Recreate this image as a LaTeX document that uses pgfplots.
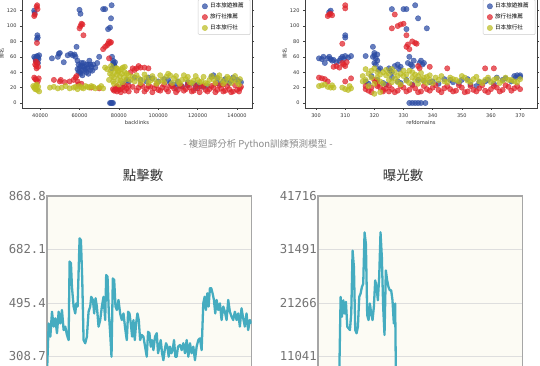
\documentclass[border=0pt]{standalone}
\usepackage{pgfplots}
\pgfplotsset{compat=1.18}
\usepackage{fontspec}
\setmainfont{DejaVu Sans}
\newfontfamily\cjk{Noto Sans CJK TC}
\newfontfamily\mono{DejaVu Sans Mono}
\definecolor{cblue}{HTML}{2C4CA4}
\definecolor{cred}{HTML}{E0242C}
\definecolor{colive}{HTML}{BCBD22}
\definecolor{tealc}{HTML}{45ACC0}
\definecolor{cream}{HTML}{FCFBF4}

\pgfplotsset{
  scat/.style={
    scale only axis, height=108.5pt,
    ymin=-6.5, ymax=134.5, ytick={0,20,...,120},
    tick align=outside, major tick length=2pt,
    tick style={black!75, line width=0.4pt},
    axis line style={black!75, line width=0.5pt},
    ticklabel style={font=\fontsize{5}{5.5}\selectfont, text=black!80},
    /pgf/number format/assume math mode=true,
    /pgf/number format/fixed,
    /pgf/number format/1000 sep={},
    scaled x ticks=false,
    xlabel style={font=\fontsize{5.2}{6}\selectfont, text=black!80, yshift=4pt},
    ylabel style={font=\cjk\fontsize{5}{6}\selectfont, text=black!80, yshift=-4pt},
    legend style={at={(0.993,1.0)}, anchor=north east, draw=black!20, fill=white,
      font=\cjk\fontsize{5.6}{6}\selectfont, rounded corners=1pt,
      row sep=0.6pt, inner xsep=4pt, inner ysep=1.5pt,
      nodes={inner xsep=2.5pt}},
    legend cell align=left,
  },
  dot/.style={only marks, mark=*, mark size=2.7pt, color=#1,
    mark options={fill=#1, draw=#1, fill opacity=0.72, draw opacity=0.72}},
  botax/.style={
    scale only axis, width=204.5pt, height=214pt,
    axis background/.style={fill=cream},
    axis line style={draw=black!35, line width=1.3pt},
    ymajorgrids, grid style={black!13, line width=0.7pt},
    xtick=\empty, major tick length=0pt,
    xmin=0, xmax=615, scaled y ticks=false,
    yticklabel style={font=\mono\fontsize{12.3}{13}\selectfont, text=black!55, inner xsep=1pt},
    /pgf/number format/assume math mode=true,
  },
}

\begin{document}
\begin{tikzpicture}
\useasboundingbox (0,0) rectangle (540pt,366pt);
\clip (0,0) rectangle (540pt,366pt);
\fill[white] (0,0) rectangle (540pt,366pt);

% ---------------- backlinks scatter ----------------
\begin{axis}[scat, at={(22pt,258pt)}, anchor=south west, width=230pt,
  xmin=30800, xmax=147600, xtick={40000,60000,80000,100000,120000,140000},
  xticklabels={40000,60000,80000,100000,120000,140000},
  yticklabels={0,20,40,60,80,100,120},
  xlabel={backlinks}, ylabel={排名}]
\addplot[dot=cblue] table {
37000 120
37200 117
38600 88
38800 85
38400 83
37000 60
37500 58
38000 56
38500 61
39000 59
39500 62
37800 55
38300 60
39200 57
38900 52
46000 58
49000 60
49500 64
50000 65
52000 53
54000 62
55500 64
56500 62
57500 63
58500 73
58000 60
59000 55
59500 50
60000 45
60200 40
60500 38
61000 42
61500 48
60000 121
60500 116
62000 52
62500 47
63000 44
63500 40
64000 45
64500 50
65000 55
65500 43
66000 47
67000 50
68000 46
69000 52
59000 44
60500 48
61500 36
62500 42
63500 50
64500 38
65500 50
66500 42
59500 40
61000 52
70000 60
72000 122
73000 122
74500 96
75500 98
76000 110
76300 127
76500 60
77000 55
77200 52
77500 50
77800 48
78000 53
76500 45
75500 0
76000 0
76500 0
77000 0
82000 25
84000 30
85000 28
88000 33
91000 30
94000 28
95000 33
97000 32
100000 28
103000 31
105000 30
106000 26
108000 24
109000 20
110000 28
112000 22
115000 23
115000 27
118000 25
119000 19
120000 24
121000 22
123000 21
125000 22
127000 34
128000 36
130000 32
131000 25
133000 28
134000 31
136000 26
137000 29
138000 33
140000 30
141000 28
142000 27
};
\addlegendentry{日本旅遊推薦}
\addplot[dot=cred] table {
37000 113
37300 115
38500 127
38700 122
38200 125
38400 78
37500 50
38000 48
38500 52
39000 47
37800 54
38200 45
37000 33
37500 31
38000 30
38800 28
39300 32
47000 30
50000 28
50500 30
52500 27
55000 28
57000 30
58000 33
58500 35
59000 28
59500 24
60000 97
60500 100
61000 103
61500 102
62000 88
61000 25
66000 20
70000 19
72000 70
73000 73
74000 75
74500 77
75000 80
75500 78
76000 79
75000 58
77000 18
77500 16
78000 17
78500 20
79000 15
79500 19
80000 17
81000 18
82000 21
83000 16
84000 19
85000 22
86000 40
87000 45
88000 43
89000 45
90000 48
91000 46
93000 46
95000 45
90000 20
92000 22
94000 18
96000 21
98000 19
100000 17
102000 20
104000 18
106000 22
108000 19
110000 17
112000 21
114000 18
116000 20
118000 16
120000 19
122000 21
124000 17
126000 18
128000 20
130000 17
132000 19
134000 16
136000 18
138000 15
140000 17
141500 19
79000 22
81000 14
83000 23
85000 15
87000 21
89000 16
91000 24
93000 15
95000 22
97000 14
99000 23
101000 16
103000 24
105000 15
107000 22
109000 14
111000 23
113000 16
115000 24
117000 15
119000 22
121000 14
123000 23
125000 15
127000 22
129000 14
131000 23
133000 15
135000 22
137000 14
139000 23
141000 15
142000 21
129000 25
133000 24
};
\addlegendentry{旅行社推薦}
\addplot[dot=colive] table {
36500 22
37000 20
37500 18
38000 22
38500 17
39000 21
39500 15
38200 24
45000 20
47000 21
49000 19
51000 20
53000 22
55000 19
57000 20
58000 21
59000 18
60000 22
61000 20
62000 19
63000 22
64000 21
65000 20
66000 22
67000 21
68000 19
70000 20
71000 22
72000 19
73000 46
74000 44
75000 30
75500 38
76000 42
76500 35
77000 28
77500 33
78000 40
78500 45
79000 37
79500 30
80000 42
80500 35
81000 29
81500 38
82000 46
82500 33
83000 40
84000 31
85000 36
86000 30
87000 34
88000 28
90000 32
92000 30
94000 33
96000 29
98000 31
100000 27
102000 30
104000 34
106000 36
108000 32
110000 28
112000 30
114000 31
116000 27
118000 29
120000 30
122000 28
124000 26
126000 30
128000 31
130000 33
132000 30
134000 28
136000 32
138000 30
140000 27
141500 31
76000 48
77500 25
79000 45
80000 24
81000 44
82000 27
83000 47
84000 38
79500 41
89000 36
91000 26
93000 37
95000 26
97000 35
99000 25
101000 36
103000 27
105000 38
107000 26
109000 35
111000 25
113000 36
115000 34
117000 26
119000 35
121000 27
123000 34
125000 25
127000 35
129000 26
131000 36
133000 25
135000 34
137000 26
139000 35
141000 24
};
\addlegendentry{日本旅行社}
\end{axis}

% ---------------- refdomains scatter ----------------
\begin{axis}[scat, at={(305pt,258pt)}, anchor=south west, width=232pt,
  xmin=296.2, xmax=375.8, xtick={300,310,320,330,340,350,360,370},
  xticklabels={300,310,320,330,340,350,360,370},
  yticklabels={0,20,40,60,80,100,120},
  xlabel={refdomains}, ylabel={排名}]
\addplot[dot=cblue] table {
301 58
302 57
302.5 60
303 52
304 58
304.5 60
305 57
305.5 55
305 120
304.5 118
306 56
307 53
308 55
308.5 58
309 60
309.5 57
310 88
310 85
310 61
311 59
312 61
317 61
319.5 73
320 65
320 62
319.5 60
320.5 58
321 55
320 52
320.5 50
321 63
321.5 43
322 45
325 45
325.5 42
326 40
326 122
327 48
328 50
328.5 44
329 47
330 122
331 122
331 96
331.5 52
332 60
332.5 50
333 48
333.5 55
334 127
335 110
335.5 52
336 55
336.5 50
337 52
338 97
332 0
333 0
334 0
335 0
336 0
337.5 0
318 25
323 26
328 28
335 30
340 28
344 31
347 27
350 30
353 24
356 27
359 30
362 33
365 32
368 35
369 36
370 34
368.5 33
317 28
319 35
321 30
324 24
326 33
329 26
331 30
333 24
337 29
339 27
342 25
346 30
349 26
352 31
355 22
358 28
361 25
364 30
367 28
370 36
};
\addlegendentry{日本旅遊推薦}
\addplot[dot=cred] table {
301 33
302 32
303 31
304 113
304.5 115
305 116
305.5 114
304 28
306 47
307 48
308 46
309 77
310 127
310 123
309 52
309.5 50
310 48
310.5 53
310 28
312 32
317 18
318 16
319 20
320 30
320.5 28
321 25
322 20
323 17
324 19
325 15
326 97
327 115
328 100
329 102
330 103
331 88
331.5 76
331 73
332 70
333 80
334 78
334.5 77
335 48
335.5 45
326 18
328 16
330 20
332 17
334 19
336 15
338 18
339 47
340 20
342 17
344 19
345 45
346 18
348 16
350 20
352 15
354 17
356 19
358 45
358 16
360 18
361 45
362 20
364 17
366 21
368 19
370 18
317 22
319 14
321 22
323 15
325 23
327 14
329 22
331 15
333 23
335 14
337 22
339 16
341 23
343 14
345 22
347 15
349 23
351 14
353 22
355 15
357 23
359 14
361 22
363 15
365 23
367 16
369 22
};
\addlegendentry{旅行社推薦}
\addplot[dot=colive] table {
301 22
302 23
303 24
304 21
305 20
305.5 23
306 20
309 20
310 18
311 17
311.5 22
312 19
316 35
317 30
318 38
319 42
320 25
320 45
320 12
321 33
322 28
322 14
323 40
324 36
325 30
326 44
327 32
328 27
329 38
330 35
331 29
332 42
333 33
334 37
335 25
336 31
337 28
338 34
339 30
340 26
342 30
344 28
346 33
348 30
350 35
352 29
354 31
356 28
358 30
360 27
362 32
364 29
366 30
368 28
370 31
316 28
317 44
318 22
319 33
321 40
322 37
323 25
324 43
325 38
326 27
327 40
328 35
329 24
330 42
331 37
332 26
333 40
334 30
335 35
336 39
337 33
338 26
339 36
341 33
343 35
345 27
347 31
349 28
351 33
353 27
355 34
357 26
359 33
361 30
363 26
365 33
367 30
369 27
};
\addlegendentry{日本旅行社}
\end{axis}

% ---------------- captions and titles ----------------
\node[text=black!45, font=\cjk\fontsize{9.5}{11}\selectfont] at (258pt,221pt) {- 複迴歸分析 Python訓練預測模型 -};
\node[text=black!80, font=\cjk\fontsize{13.5}{15}\selectfont] at (143pt,191pt) {點擊數};
\node[text=black!80, font=\cjk\fontsize{13.5}{15}\selectfont] at (403pt,191pt) {曝光數};

% ---------------- clicks ----------------
\begin{axis}[botax, at={(47pt,170pt)}, anchor=north west,
  ymin=122, ymax=868.8, ytick={122,308.7,495.4,682.1,868.8},
  yticklabels={122.0,308.7,495.4,682.1,868.8}]
\addplot[tealc, line width=2.3pt, line join=round] table {
0 250
5 424
10 378
15 465
20 413
25 442
30 390
35 465
40 424
45 471
50 401
55 413
60 384
65 366
68 640
72 634
75 552
80 483
85 459
88 494
92 483
98 721
102 715
106 576
110 366
115 355
120 378
125 465
130 483
133 517
138 506
142 459
146 512
150 483
155 413
160 436
165 483
170 517
175 436
178 593
182 587
186 459
190 390
194 308
198 581
202 576
206 483
210 471
215 506
220 459
225 436
230 459
235 407
240 366
244 465
248 459
252 424
256 378
260 436
264 366
268 424
272 459
276 436
280 366
285 384
290 378
295 343
300 308
304 395
308 390
312 343
316 366
320 331
325 378
330 390
334 320
338 343
342 366
346 320
350 296
354 331
358 355
362 343
366 308
370 343
374 320
378 331
382 366
386 308
390 308
394 343
400 349
405 331
410 355
415 320
420 366
425 308
430 355
435 320
440 343
445 296
450 343
455 366
460 372
465 331
470 494
474 517
478 471
482 529
486 483
490 547
494 547
498 529
502 506
506 459
510 506
515 471
520 494
525 436
530 483
535 465
540 436
545 506
550 465
555 448
560 436
565 465
570 436
575 459
580 413
585 477
590 442
595 413
600 459
605 401
610 436
615 424
};
\end{axis}

% ---------------- impressions ----------------
\begin{axis}[botax, at={(318pt,170pt)}, anchor=north west,
  ymin=816, ymax=41716, ytick={816,11041,21266,31491,41716},
  yticklabels={816,11041,21266,31491,41716}]
\addplot[tealc, line width=2.3pt, line join=round] table {
63 4000
68 22428
72 18633
76 21796
80 19266
84 21479
88 16736
92 16420
96 16104
100 19266
104 31281
108 28119
112 16104
116 15472
120 16736
124 22428
128 23060
132 24325
136 24957
140 34760
144 32546
148 18950
152 17998
156 21163
160 19266
164 17998
168 20530
172 25590
176 24325
180 21796
184 26222
188 34760
192 30017
196 20530
200 15155
204 27487
208 25590
212 24325
216 23693
220 23693
224 21796
228 17369
232 21163
235 3000
};
\end{axis}
\end{tikzpicture}
\end{document}
